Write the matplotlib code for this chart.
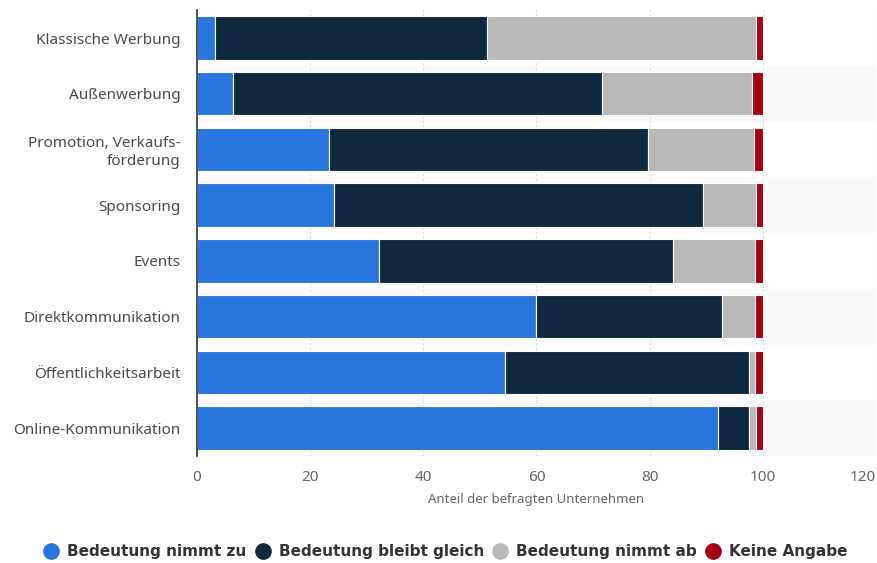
import matplotlib.pyplot as plt
import numpy as np
from matplotlib.lines import Line2D

plt.rcParams['font.family'] = ['Noto Sans', 'DejaVu Sans']

# Kategorien (von oben nach unten)
categories = ["Klassische Werbung", "Außenwerbung", "Promotion, Verkaufs-\nförderung",
              "Sponsoring", "Events", "Direktkommunikation",
              "Öffentlichkeitsarbeit", "Online-Kommunikation"]

nimmt_zu = [3.2, 6.3, 23.4, 24.3, 32.2, 60.0, 54.5, 92.0]
bleibt_gleich = [48.0, 65.2, 56.4, 65.2, 51.9, 32.8, 43.1, 5.6]
nimmt_ab = [47.6, 26.6, 18.6, 9.3, 14.5, 5.8, 1.0, 1.2]
keine_angabe = [1.2, 1.9, 1.6, 1.2, 1.4, 1.4, 1.4, 1.2]

series = [nimmt_zu, bleibt_gleich, nimmt_ab, keine_angabe]
labels = ["Bedeutung nimmt zu", "Bedeutung bleibt gleich", "Bedeutung nimmt ab", "Keine Angabe"]
colors = ["#2876dd", "#0f2940", "#b8b8b8", "#a50010"]
xticks = [0, 20, 40, 60, 80, 100, 120]

fig = plt.figure(figsize=(8.77, 5.63), dpi=100)
ax = fig.add_axes([0.2246, 0.190, 0.7742, 0.792])

y = np.arange(len(categories))
left = np.zeros(len(categories))
for vals, lab, col in zip(series, labels, colors):
    ax.barh(y, vals, left=left, height=0.78, color=col, edgecolor="white",
            linewidth=0.8, label=lab, zorder=3)
    left += np.array(vals)

# abwechselnde Hintergrundbänder
for i in y:
    if i % 2 == 1:
        ax.axhspan(i - 0.5, i + 0.5, color="#f9f9f9", zorder=0, lw=0)

ax.set_xlim(0, 120)
ax.set_ylim(len(categories) - 0.5, -0.5)
ax.set_xticks(xticks)
ax.set_yticks(y)
ax.set_yticklabels(categories, fontsize=11, color="#4a4a4a", linespacing=1.2)
ax.tick_params(axis="x", labelsize=11, colors="#666666", length=0, pad=10)
ax.tick_params(axis="y", length=0, pad=12)
# letzte Beschriftung nach innen schieben
ax.get_xticklabels()[-1].set_horizontalalignment("right")
ax.grid(axis="x", color="#d9d9d9", linestyle=(0, (2, 2)), linewidth=0.8, zorder=1)
for s in ["top", "right", "bottom"]:
    ax.spines[s].set_visible(False)
ax.spines["left"].set_color("#333333")
ax.spines["left"].set_linewidth(1.2)
ax.spines["left"].set_zorder(5)
ax.set_xlabel("Anteil der befragten Unternehmen", fontsize=9.5, color="#666666", labelpad=6)

h = [Line2D([0], [0], marker="o", color="none", markerfacecolor=c, markeredgecolor=c,
            markersize=11) for c in colors]
fig.legend(h, labels, loc="center", bbox_to_anchor=(0.508, 0.02), ncol=4, frameon=False,
           prop={"family": "DejaVu Sans", "weight": "bold", "size": 11},
           handletextpad=0.55, columnspacing=0.55, labelcolor="#333333", handlelength=1.0)

fig.savefig("out.png", dpi=100)
